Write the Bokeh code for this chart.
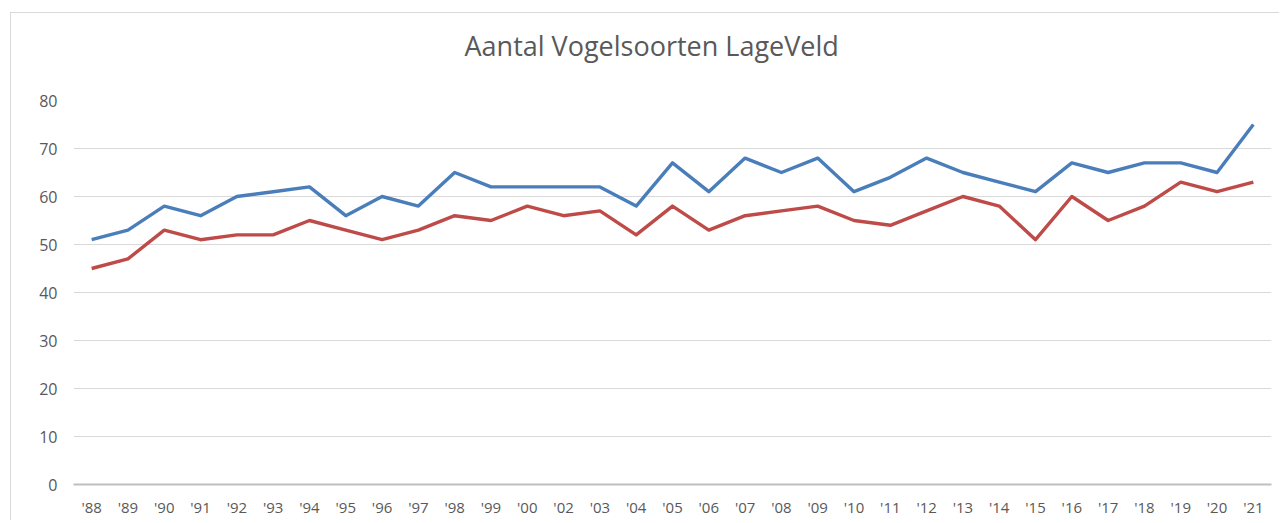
from bokeh.plotting import figure
from bokeh.models import FactorRange, Range1d, FixedTicker
from bokeh.embed import file_html
from bokeh.resources import INLINE

years = ["'88", "'89", "'90", "'91", "'92", "'93", "'94", "'95", "'96", "'97", "'98", "'99",
         "'00", "'02", "'03", "'04", "'05", "'06", "'07", "'08", "'09", "'10", "'11", "'12",
         "'13", "'14", "'15", "'16", "'17", "'18", "'19", "'20", "'21"]
blue_values = [51, 53, 58, 56, 60, 61, 62, 56, 60, 58, 65, 62,
               62, 62, 62, 58, 67, 61, 68, 65, 68, 61, 64, 68,
               65, 63, 61, 67, 65, 67, 67, 65, 75]
red_values = [45, 47, 53, 51, 52, 52, 55, 53, 51, 53, 56, 55,
              58, 56, 57, 52, 58, 53, 56, 57, 58, 55, 54, 57,
              60, 58, 51, 60, 55, 58, 63, 61, 63]
y_ticks = [0, 10, 20, 30, 40, 50, 60, 70, 80]
title_text = "Aantal Vogelsoorten LageVeld"

FONT = "Open Sans"
TXT = "#595959"

p = figure(x_range=FactorRange(factors=years, range_padding=0),
           y_range=Range1d(0, 80),
           width=1269, height=508,
           output_backend="svg", toolbar_location=None,
           min_border_left=62, min_border_right=9,
           min_border_top=87, min_border_bottom=37)
p.margin = (12, 0, 0, 10)
p.styles = {"border-top": "1px solid #d9d9d9", "border-left": "1px solid #d9d9d9"}
p.outline_line_color = None

p.title.text = title_text + "\n "
p.title.align = "left"
p.title.offset = 391
p.title.text_font = FONT
p.title.text_font_size = "27px"
p.title.text_font_style = "normal"
p.title.text_color = TXT
p.title.standoff = 0

p.line(years, blue_values, line_color="#4A7EBB", line_width=3.4, line_join="round")
p.line(years, red_values, line_color="#BE4B48", line_width=3.4, line_join="round")

p.yaxis.ticker = FixedTicker(ticks=y_ticks)
p.yaxis.axis_line_color = None
p.yaxis.major_tick_line_color = None
p.yaxis.major_tick_out = 0
p.yaxis.major_tick_in = 0
p.yaxis.minor_tick_line_color = None
p.yaxis.major_label_standoff = 16
p.yaxis.major_label_text_font = FONT
p.yaxis.major_label_text_font_size = "16px"
p.yaxis.major_label_text_color = TXT

p.xaxis.axis_line_color = "#bfbfbf"
p.xaxis.axis_line_width = 2
p.xaxis.major_tick_line_color = None
p.xaxis.major_tick_out = 0
p.xaxis.major_tick_in = 0
p.xaxis.minor_tick_line_color = None
p.xaxis.major_label_standoff = 12
p.xaxis.major_label_text_font = FONT
p.xaxis.major_label_text_font_size = "15px"
p.xaxis.major_label_text_color = TXT

p.xgrid.grid_line_color = None
p.ygrid.grid_line_color = "#d9d9d9"
p.ygrid.grid_line_width = 1

open("out.html", "w").write(file_html(p, INLINE))
